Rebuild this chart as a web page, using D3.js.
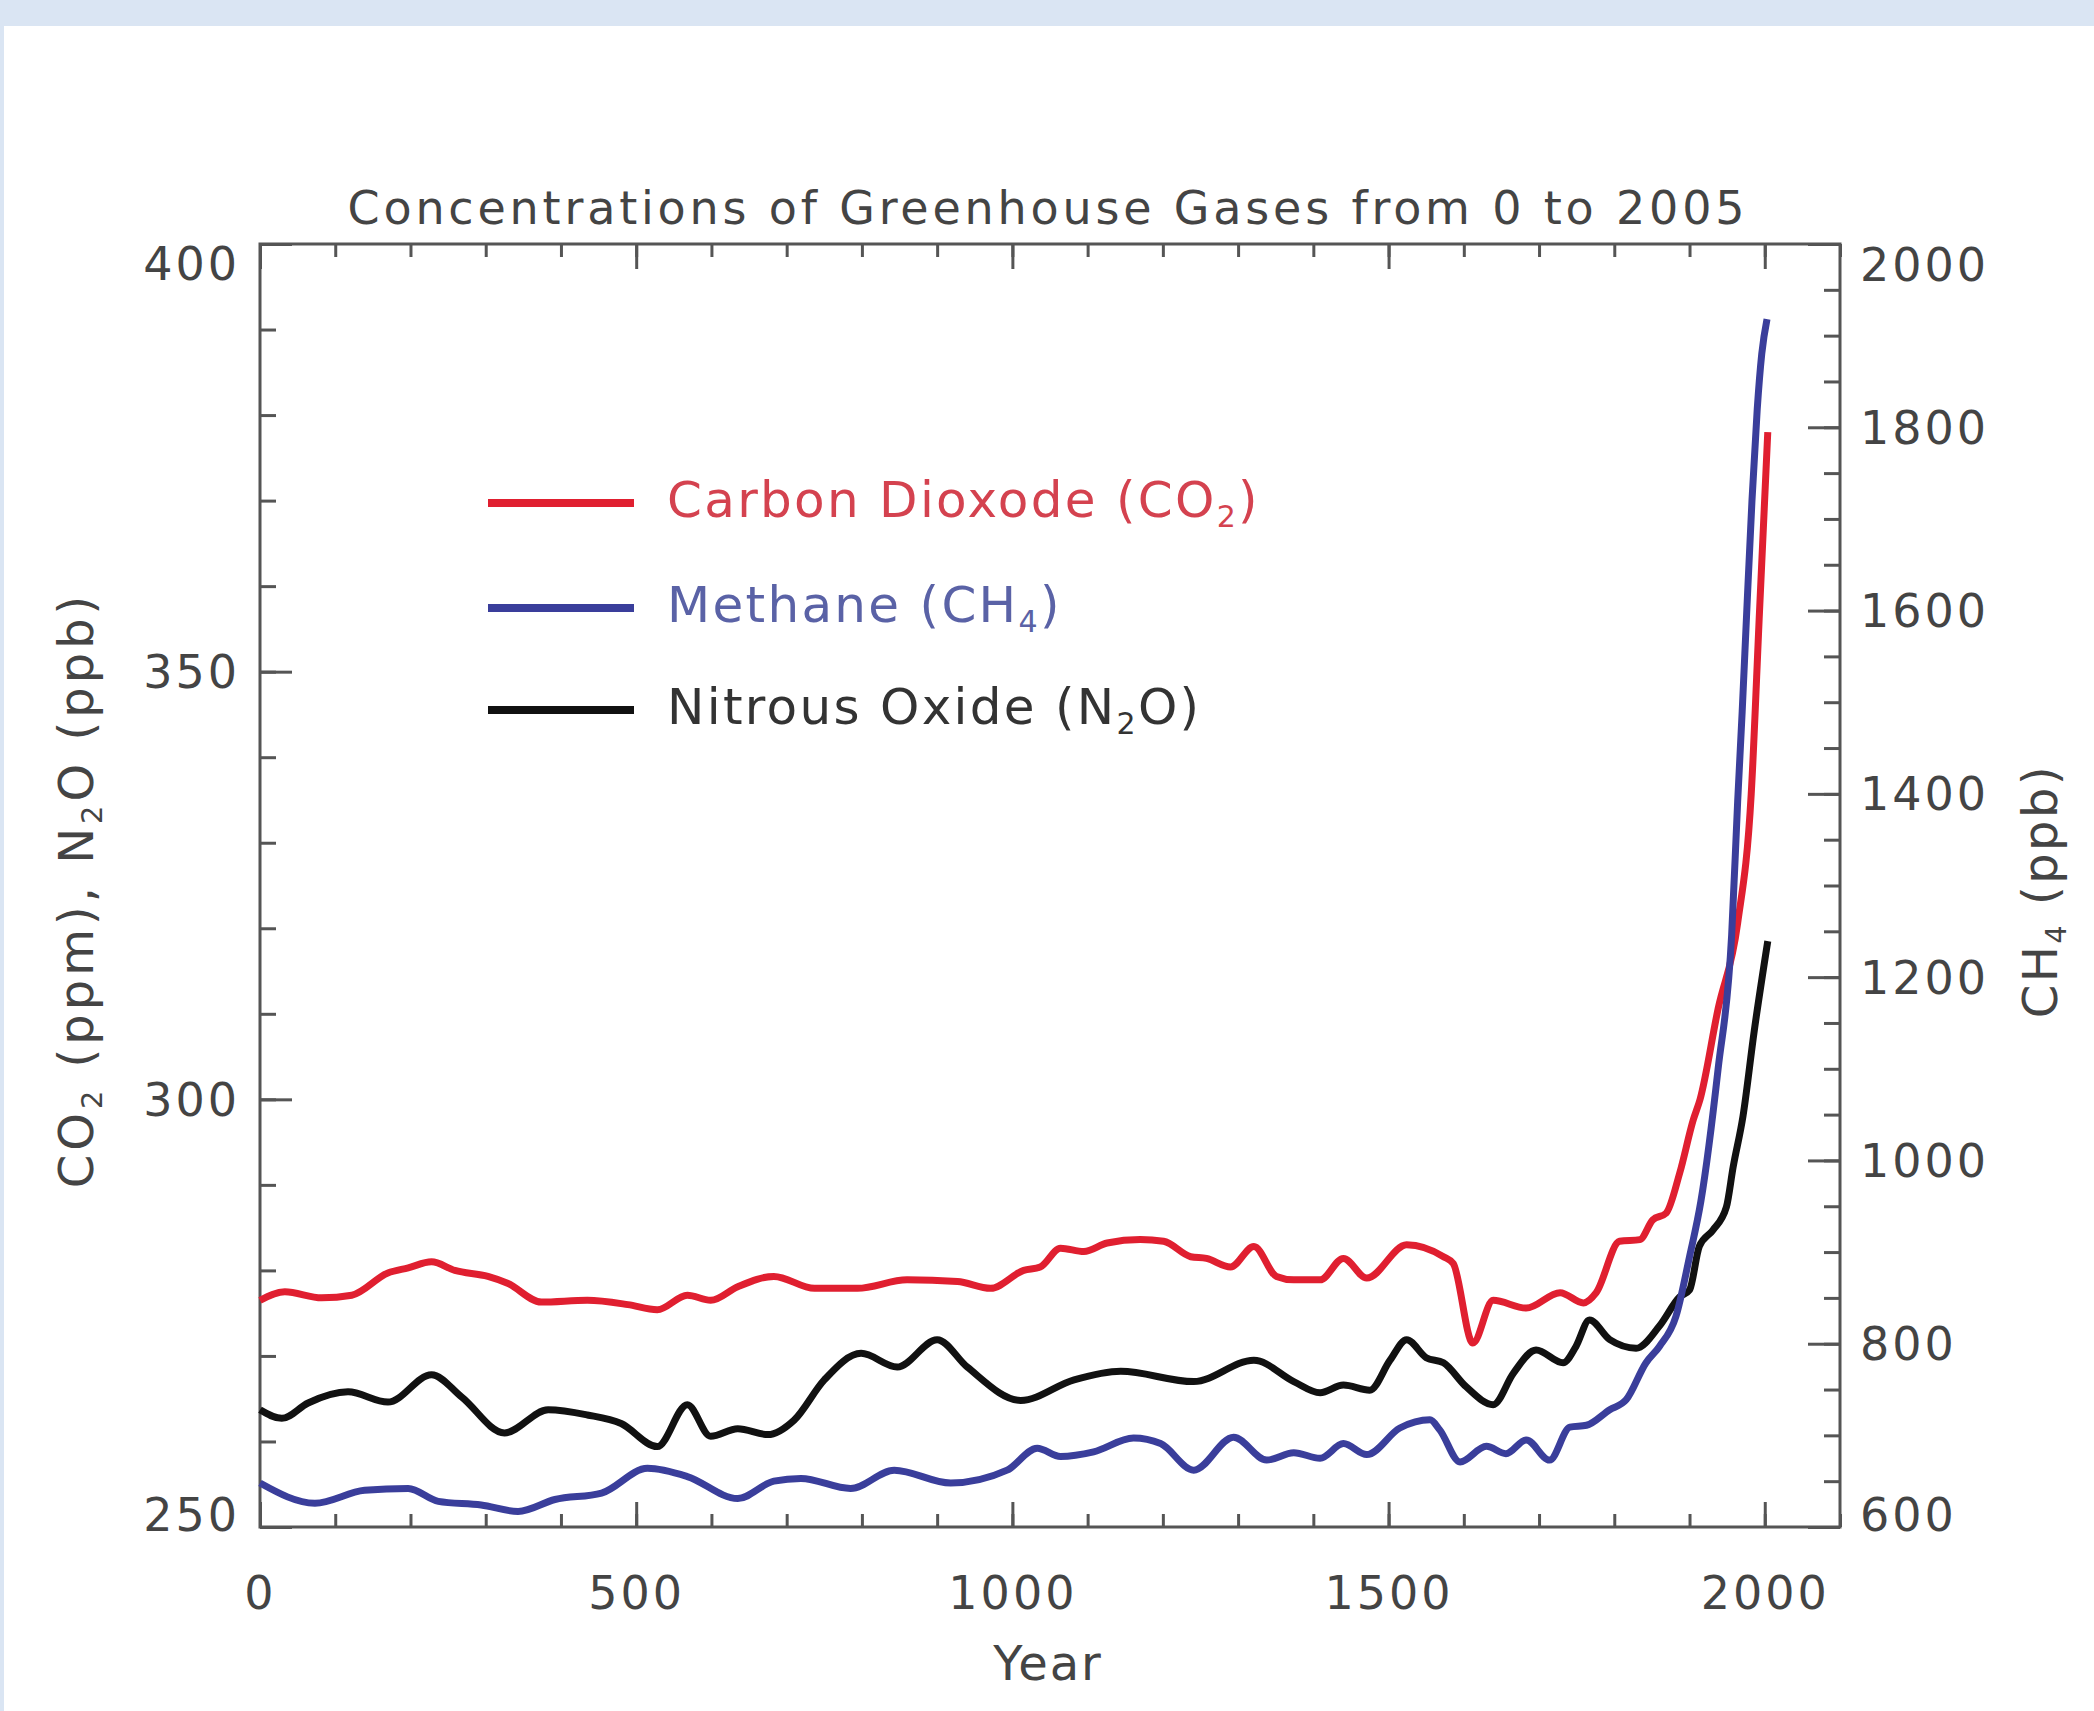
<!DOCTYPE html>
<html><head><meta charset="utf-8">
<script src="https://cdn.jsdelivr.net/npm/d3@7"></script>
<style>html,body{margin:0;padding:0;background:#fff;} svg{display:block;}</style>
</head><body>
<svg id="chart" width="2094" height="1711"></svg>
<script>
// ---- data ----
const co2Years  = [0,33,82,122,170,197,228,259,303,329,374,435,489,528,568,599,635,683,737,794,860,927,971,1015,1037,1064,1095,1126,1170,1201,1237,1258,1290,1321,1351,1374,1409,1440,1471,1524,1573,1586,1612,1639,1683,1728,1759,1776,1807,1834,1851,1869,1887,1905,1914,1938,1964,1982,1993,2004];
const co2Values = [276.5,277.5,276.8,277.1,279.7,280.3,281,280,279.3,278.5,276.3,276.5,276,275.4,277.1,276.5,278.1,279.3,277.9,277.9,278.9,278.7,277.9,280,280.4,282.6,282.2,283.2,283.6,283.4,281.6,281.4,280.4,282.8,279.3,278.9,278.9,281.4,279.1,283,281.6,280.8,271.5,276.5,275.6,277.4,276.2,277.4,283.4,283.6,285.9,286.7,291.4,297.6,300,310.6,320.6,335.7,357,378];

const ch4Years  = [0,73,139,197,237,294,343,392,454,515,568,635,683,719,785,843,918,993,1033,1064,1108,1161,1197,1241,1294,1338,1374,1409,1440,1471,1515,1555,1568,1595,1630,1656,1683,1714,1741,1763,1794,1816,1842,1860,1882,1900,1915,1938,1956,1964,1970,1976,1983,1990,1996,2003];
const ch4Values = [648,626,640,642,628,624,617,630,637,664,655,631,650,653,642,662,648,662,686,677,682,697,691,662,698,673,681,675,691,679,708,717,706,671,688,680,695,673,709,711,728,739,779,797,830,895,955,1100,1246,1392,1490,1598,1720,1820,1880,1918];

const n2oYears  = [0,29,64,117,170,228,268,325,383,435,480,528,568,599,635,675,710,750,799,847,900,940,1011,1082,1144,1241,1321,1374,1409,1440,1475,1502,1524,1550,1573,1603,1639,1666,1696,1732,1749,1767,1794,1829,1860,1887,1900,1913,1931,1949,1958,1971,1986,2004];
const n2oValues = [263.7,262.7,264.5,265.8,264.6,267.8,265.2,261,263.7,263.1,262.1,259.4,264.3,260.6,261.5,260.8,262.5,267.2,270.3,268.7,271.9,268.7,264.8,267.2,268.2,267,269.5,267,265.7,266.6,266,269.5,271.9,269.8,269.2,266.4,264.3,268,270.7,269.2,271.1,274.2,271.9,270.9,273.5,276.9,277.7,282.8,284.7,287.4,292.1,298,308,318.5];

const xTickLabels     = [0,500,1000,1500,2000];
const xMinorTicks     = [0,100,200,300,400,500,600,700,800,900,1000,1100,1200,1300,1400,1500,1600,1700,1800,1900,2000,2100];
const leftTickLabels  = [250,300,350,400];
const leftMinorTicks  = [250,260,270,280,290,300,310,320,330,340,350,360,370,380,390,400];
const rightTickLabels = [600,800,1000,1200,1400,1600,1800,2000];
const rightMinorTicks = [600,650,700,750,800,850,900,950,1000,1050,1100,1150,1200,1250,1300,1350,1400,1450,1500,1550,1600,1650,1700,1750,1800,1850,1900,1950,2000];

const seriesNames  = ["Carbon Dioxode (CO₂)","Methane (CH₄)","Nitrous Oxide (N₂O)"];
const titleText    = "Concentrations of Greenhouse Gases from 0 to 2005";

// ---- drawing ----
const FONT = "'DejaVu Sans', Verdana, sans-serif";
const AX = "#555", TXT = "#444";
const COL = {co2:"#e01f30", ch4:"#3a3e9b", n2o:"#111111"};
const svg = d3.select("#chart");

svg.append("rect").attr("width",2094).attr("height",1711).attr("fill","#fff");
svg.append("rect").attr("x",0).attr("y",0).attr("width",2094).attr("height",26).attr("fill","#dae5f3");
svg.append("rect").attr("x",0).attr("y",26).attr("width",4).attr("height",1685).attr("fill","#dae5f3");

const L=260, R=1840, T=244, B=1527;
const x  = d3.scaleLinear().domain([0,2100]).range([L,R]);
const yL = d3.scaleLinear().domain([250,400]).range([B,T]);
const yR = d3.scaleLinear().domain([600,2000]).range([B,T]);

function styleAxis(g){
  g.select(".domain").remove();
  g.selectAll("line").attr("stroke",AX).attr("stroke-width",3);
  g.selectAll("text").attr("font-family",FONT).attr("font-size",46)
   .attr("fill",TXT).attr("letter-spacing",3);
}

// minor ticks
svg.append("g").attr("transform",`translate(0,${B})`).call(d3.axisBottom(x).tickValues(xMinorTicks).tickSize(-13).tickFormat("")).call(styleAxis);
svg.append("g").attr("transform",`translate(0,${T})`).call(d3.axisTop(x).tickValues(xMinorTicks).tickSize(-13).tickFormat("")).call(styleAxis);
svg.append("g").attr("transform",`translate(${L},0)`).call(d3.axisLeft(yL).tickValues(leftMinorTicks).tickSize(-16).tickFormat("")).call(styleAxis);
svg.append("g").attr("transform",`translate(${R},0)`).call(d3.axisRight(yR).tickValues(rightMinorTicks).tickSize(-16).tickFormat("")).call(styleAxis);

// major ticks + labels
const gx = svg.append("g").attr("transform",`translate(0,${B})`)
  .call(d3.axisBottom(x).tickValues(xTickLabels).tickSize(-25).tickPadding(0).tickFormat(d3.format("d"))).call(styleAxis);
gx.selectAll("text").attr("y",66).attr("dy","0.35em");
svg.append("g").attr("transform",`translate(0,${T})`)
  .call(d3.axisTop(x).tickValues(xTickLabels).tickSize(-25).tickFormat("")).call(styleAxis);

const gl = svg.append("g").attr("transform",`translate(${L},0)`)
  .call(d3.axisLeft(yL).tickValues(leftTickLabels).tickSize(-32).tickPadding(20).tickFormat(d3.format("d"))).call(styleAxis);
gl.selectAll("text").attr("dy",d=> d===400? "0.78em" : d===250 ? "0.08em" : "0.35em");

const gr = svg.append("g").attr("transform",`translate(${R},0)`)
  .call(d3.axisRight(yR).tickValues(rightTickLabels).tickSize(-32).tickPadding(20).tickFormat(d3.format("d"))).call(styleAxis);
gr.selectAll("text").attr("dy",d=> d===2000? "0.8em" : d===600 ? "0.07em" : "0.35em");

// frame
svg.append("rect").attr("x",L).attr("y",T).attr("width",R-L).attr("height",B-T)
  .attr("fill","none").attr("stroke",AX).attr("stroke-width",3);

// lines
const lineL = d3.line().x(d=>x(d[0])).y(d=>yL(d[1])).curve(d3.curveMonotoneX);
const lineR = d3.line().x(d=>x(d[0])).y(d=>yR(d[1])).curve(d3.curveMonotoneX);
const plot = svg.append("g");
plot.append("path").datum(d3.zip(n2oYears,n2oValues)).attr("d",lineL)
  .attr("fill","none").attr("stroke",COL.n2o).attr("stroke-width",7).attr("stroke-linejoin","round");
plot.append("path").datum(d3.zip(co2Years,co2Values)).attr("d",lineL)
  .attr("fill","none").attr("stroke",COL.co2).attr("stroke-width",7).attr("stroke-linejoin","round");
plot.append("path").datum(d3.zip(ch4Years,ch4Values)).attr("d",lineR)
  .attr("fill","none").attr("stroke",COL.ch4).attr("stroke-width",7).attr("stroke-linejoin","round");

// rich text helper (subscript digits)
function rich(textSel, str, fs){
  const parts = str.split(/([₀-₉])/).filter(s=>s.length);
  let sub = false;
  parts.forEach(p=>{
    const isSub = /[₀-₉]/.test(p);
    const t = textSel.append("tspan");
    if(isSub){
      t.text(String.fromCharCode(p.charCodeAt(0)-0x2080+48)).attr("font-size",fs*0.6).attr("dy",fs*0.2);
      sub = true;
    } else {
      t.text(p);
      if(sub){ t.attr("dy",-fs*0.2); sub=false; }
    }
  });
}

// title
svg.append("text").attr("x",1046).attr("y",208).attr("dy","0.35em")
  .attr("text-anchor","middle").attr("font-family",FONT).attr("font-size",46)
  .attr("fill",TXT).attr("textLength",1397).attr("lengthAdjust","spacing").text(titleText);

// axis titles
svg.append("text").attr("x",1048).attr("y",1663).attr("dy","0.35em").attr("text-anchor","middle")
  .attr("font-family",FONT).attr("font-size",48).attr("fill",TXT).attr("letter-spacing",2).text("Year");

const lt = svg.append("text").attr("transform","translate(76,890) rotate(-90)").attr("dy","0.35em")
  .attr("text-anchor","middle").attr("font-family",FONT).attr("font-size",48).attr("fill",TXT).attr("letter-spacing",4);
rich(lt,"CO₂ (ppm), N₂O (ppb)",48);

const rt = svg.append("text").attr("transform","translate(2040,891) rotate(-90)").attr("dy","0.35em")
  .attr("text-anchor","middle").attr("font-family",FONT).attr("font-size",48).attr("fill",TXT).attr("letter-spacing",2.5);
rich(rt,"CH₄ (ppb)",48);

// legend
const legColors = [COL.co2, COL.ch4, COL.n2o];
const legText   = ["#d4424f","#5a62a6","#333333"];
const legY = [503,608,710];
seriesNames.forEach((name,i)=>{
  svg.append("line").attr("x1",488).attr("x2",634).attr("y1",legY[i]).attr("y2",legY[i])
    .attr("stroke",legColors[i]).attr("stroke-width",8);
  const t = svg.append("text").attr("x",667).attr("y",legY[i]-4).attr("dy","0.35em")
    .attr("font-family",FONT).attr("font-size",50).attr("fill",legText[i]).attr("letter-spacing",2.3);
  rich(t,name,50);
});
</script>
</body></html>
